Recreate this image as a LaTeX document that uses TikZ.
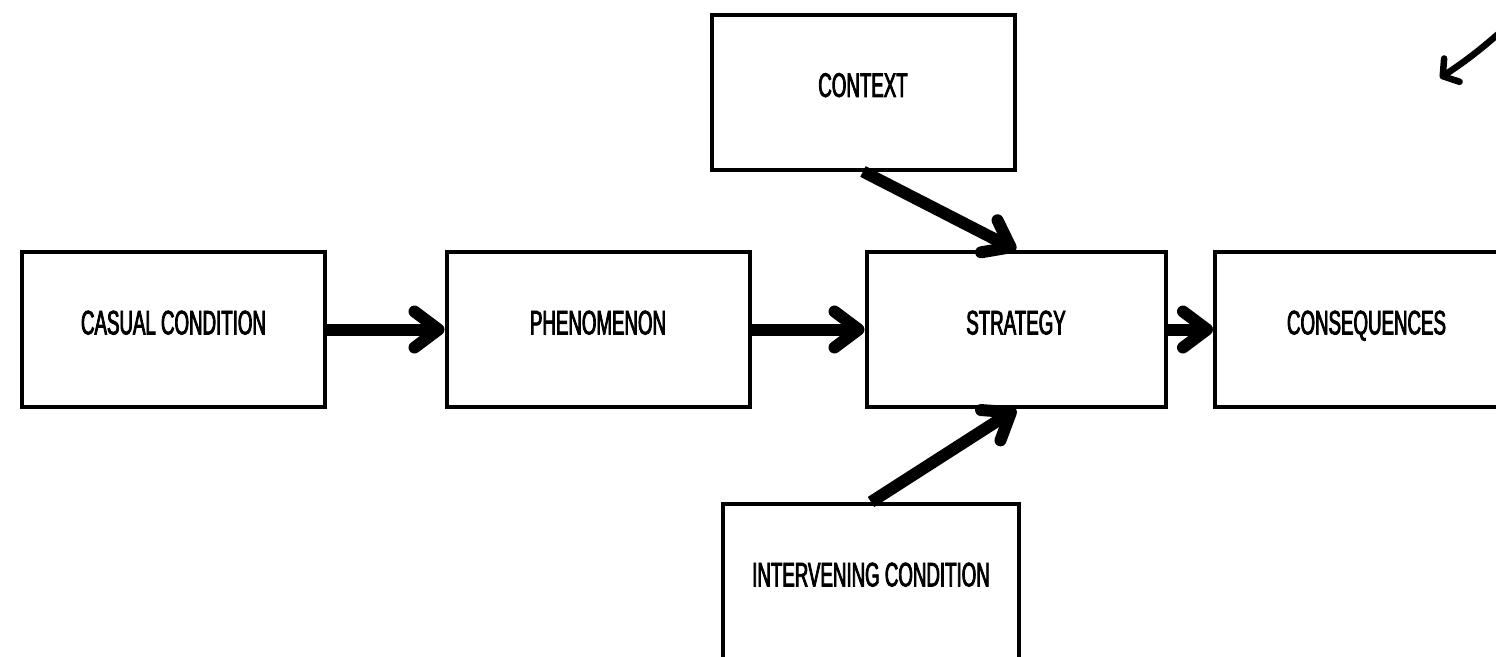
\documentclass[tikz,border=0pt]{standalone}
\usepackage{fontspec}
\newfontfamily\labelfont[FakeStretch=0.55,FakeBold=2.4]{Liberation Sans}
\usetikzlibrary{arrows.meta}
\begin{document}
\begin{tikzpicture}[x=1pt,y=-1pt,
  stagebox/.style={draw,line width=4pt,fill=white,minimum width=303pt,minimum height=155pt,
    text depth=14pt,inner sep=0pt,
    font=\labelfont\fontsize{34}{40}\selectfont},
  flow/.style={line width=12pt,-{Straight Barb[length=24pt,width=36pt,round]}},
  note/.style={line width=6.5pt,-{Straight Barb[length=11pt,width=28pt,round]}}]
\useasboundingbox (0,0) rectangle (1496,656);

% the stages of the paradigm model
\node[stagebox] (casual) at (173.5,329.5) {CASUAL CONDITION};
\node[stagebox] (phen) at (598,329.5) {PHENOMENON};
\node[stagebox,minimum width=299pt] (strat) at (1016,329.5) {STRATEGY};
\node[stagebox] (cons) at (1366.5,329.5) {CONSEQUENCES};
\node[stagebox] (ctx) at (863,92) {CONTEXT};
\node[stagebox,minimum width=296pt] (interv) at (871,581.5) {INTERVENING CONDITION};

% links between stages
\draw[flow] (casual.east) -- (phen.west);
\draw[flow] (phen.east) -- (strat.west);
\draw[flow] (strat.east) -- (cons.west);
\draw[flow] (ctx.south) -- (strat.north);
\draw[flow] (interv.north) -- (strat.south);

% pointer in the upper right corner
\coordinate (pfrom) at (1505,28);
\coordinate (pto) at (1440,78);
\draw[note] (pfrom) to[bend left=4] (pto);
\end{tikzpicture}
\end{document}
